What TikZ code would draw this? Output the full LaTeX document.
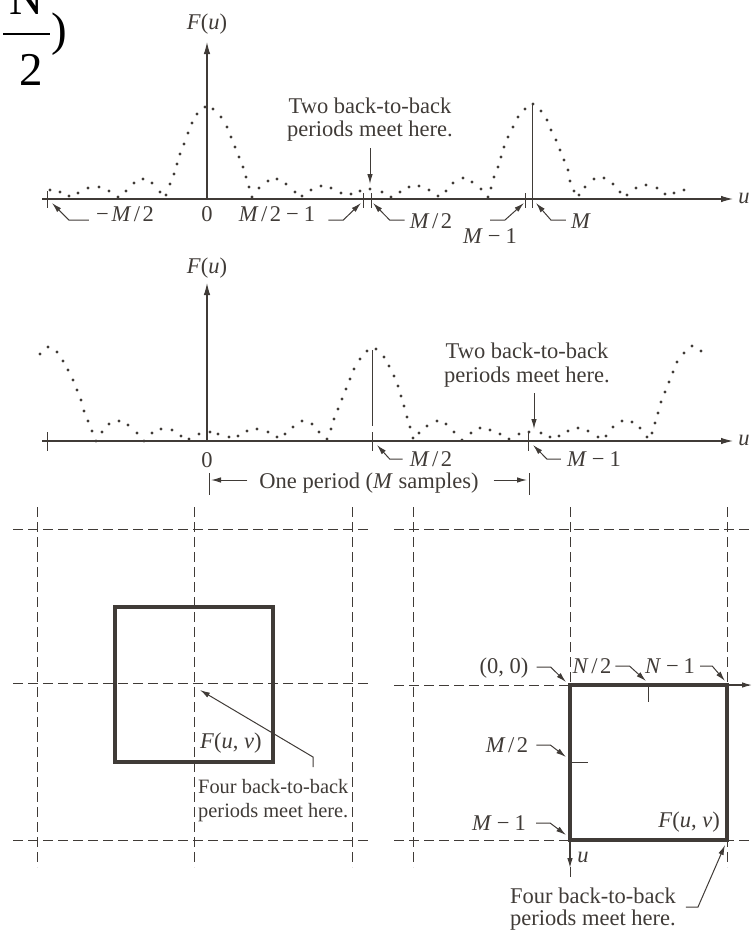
\documentclass[tikz,border=0pt]{standalone}
\usepackage{fontspec}
\setmainfont{Liberation Serif}
\usetikzlibrary{arrows.meta}
\definecolor{ink}{RGB}{64,59,55}
\newcommand{\itx}[1]{\textit{#1}}
\newcommand{\mns}{\kern5pt\char"2212\kern5pt}
\newcommand{\slh}{\kern2.5pt/\kern2.5pt}
\begin{document}
\begin{tikzpicture}[x=1pt,y=-1pt,
  lbl/.style={inner sep=0pt, anchor=base, text=ink, font=\fontsize{22.5}{23}\selectfont},
  lblw/.style={lbl, anchor=base west},
  lble/.style={lbl, anchor=base east},
  smallnote/.style={lblw, font=\fontsize{20.4}{21}\selectfont},
  axisline/.style={draw=ink, line width=1.1pt, -{Latex[length=12pt,width=6.5pt]}},
  smallaxis/.style={draw=ink, line width=1.1pt, -{Latex[length=10pt,width=5.5pt]}},
  leader/.style={draw=ink, line width=1pt, -{Latex[length=10pt,width=5.5pt]}},
  tickline/.style={draw=ink, line width=0.9pt},
  gridline/.style={draw=ink, line width=0.8pt, dash pattern=on 10pt off 5pt},
  framebox/.style={draw=ink, line width=3.2pt},
  dotmark/.style={fill=ink}]
\useasboundingbox (0,0) rectangle (753,930);
\clip (0,0) rectangle (753,930);

% ---- fragment at top left ----
\node[inner sep=0pt, anchor=base, font=\fontsize{47}{47}\selectfont] (fragN) at (26,14) {N};
\draw[line width=2pt] (3,34) -- (50,34);
\node[inner sep=0pt, anchor=base, font=\fontsize{47}{47}\selectfont] (fragTwo) at (31.5,85) {2};
\node[inner sep=0pt, anchor=base, font=\fontsize{47}{47}\selectfont] (fragPar) at (59,45) {)};

% ================= PANEL 1 =================
\coordinate (o1) at (207,199);
\coordinate (top1) at (207,42);
\coordinate (l1) at (42,199);
\coordinate (r1) at (733,199);
\draw[axisline] (o1) -- (top1);
\draw[axisline] (l1) -- (r1);
\node[lbl] (F1) at (207,29) {\itx{F}(\itx{u})};
\node[lbl] (u1) at (744,203) {\itx{u}};
\draw[tickline] (47,191) -- (47,208);
\draw[tickline] (363,193) -- (363,208);
\draw[tickline] (371,193) -- (371,208);
\draw[tickline] (525,193) -- (525,208);
\draw[tickline] (532,104) -- (532,208);

\foreach \q in {(50,190),(60,192),(69,196),(78,193),(88,188),(99,187),(109,191),(118,197),(126,191),(134,183),(143,179),(152,183),(160,192),(166,195),(170,184),(174,174),(177,164),(180,154),(184,144),(188,133),(192,123),(197,114),(205,107),(213,109),(221,117),(227,127),(231,137),(235,147),(239,157),(243,167),(246,177),(249,187),(252,197),(259,188),(268,181),(277,179),(286,184),(295,192),(302,196),(311,190),(321,186),(331,188),(341,193),(351,194),(360,191),(370,189),(382,192),(391,197),(400,192),(409,187),(419,186),(429,190),(438,196),(446,191),(453,183),(463,178),(472,182),(481,189),(488,197),(491,188),(494,177),(498,167),(501,157),(504,147),(508,137),(513,127),(518,117),(525,109),(533,104),(541,111),(547,120),(551,130),(556,140),(560,150),(564,160),(568,170),(570,181),(574,191),(579,195),(585,187),(594,179),(604,178),(613,184),(620,192),(627,195),(636,188),(646,185),(657,188),(665,194),(674,193),(684,190)}
  \fill[dotmark] \q circle[radius=1.65pt];

\node[lbl] (m2neg) at (125,221) {\char"2212\kern3pt\itx{M}\slh 2};
\node[lbl] (zero1) at (207,221) {0};
\node[lbl] (m2m1) at (277,221) {\itx{M}\slh 2\mns 1};
\node[lbl] (mh1) at (431,228) {\itx{M}\slh 2};
\node[lbl] (mm1) at (490,243) {\itx{M}\mns 1};
\node[lbl] (mM) at (581,228) {\itx{M}};
\node[lbl] (two1a) at (370,113) {Two back-to-back};
\node[lbl] (two1b) at (370,136) {periods meet here.};

\coordinate (tA) at (52,203);
\coordinate (tB) at (361,203);
\coordinate (tC) at (373,203);
\coordinate (tD) at (524,203);
\coordinate (tE) at (536,203);
\coordinate (tG) at (370,184);
\draw[leader] ([xshift=-7pt,yshift=1pt]m2neg.base west) -- ++(-20,0) -- (tA);
\draw[leader] ([xshift=13pt,yshift=1pt]m2m1.base east) -- ++(15,0) -- (tB);
\draw[leader] ([xshift=-5pt,yshift=8pt]mh1.base west) -- ++(-15,0) -- (tC);
\draw[leader] ([yshift=23pt]mm1.base) -- ++(15,0) -- (tD);
\draw[leader] ([xshift=-5pt,yshift=8pt]mM.base west) -- ++(-15,0) -- (tE);
\draw[leader] ([yshift=-12pt]two1b.base) -- (tG);

% ================= PANEL 2 =================
\coordinate (o2) at (207,441);
\coordinate (top2) at (207,283);
\coordinate (l2) at (42,441);
\coordinate (r2) at (733,441);
\draw[axisline] (o2) -- (top2);
\draw[axisline] (l2) -- (r2);
\node[lbl] (F2) at (207,273) {\itx{F}(\itx{u})};
\node[lbl] (u2) at (744,445) {\itx{u}};
\draw[tickline] (47,432) -- (47,451);
\draw[tickline] (372,350) -- (372,426);
\draw[tickline] (372,432) -- (372,451);
\draw[tickline] (528,432) -- (528,451);

\foreach \q in {(40,354),(48,347),(57,352),(63,361),(68,370),(73,380),(77,390),(81,400),(84,411),(88,421),(92,431),(96,441),(102,432),(109,424),(119,421),(128,425),(137,433),(144,441),(152,433),(161,429),(172,430),(181,436),(189,439),(199,434),(210,432),(218,434),(229,437),(238,436),(247,431),(257,429),(268,432),(277,437),(285,434),(293,427),(302,421),(312,424),(319,432),(327,439),(331,429),(334,419),(338,409),(342,399),(346,389),(350,379),(354,369),(360,359),(367,351),(376,349),(384,357),(389,366),(394,376),(398,386),(401,396),(404,406),(407,417),(410,427),(413,438),(419,433),(427,426),(437,421),(446,424),(454,432),(462,440),(471,433),(480,428),(490,430),(500,434),(509,439),(519,434),(529,432),(541,433),(550,437),(559,436),(568,431),(578,428),(588,431),(598,437),(606,436),(613,427),(622,421),(632,422),(640,428),(647,437),(652,433),(655,423),(658,413),(661,402),(665,392),(669,382),(673,372),(677,362),(684,353),(692,346),(701,351)}
  \fill[dotmark] \q circle[radius=1.65pt];

\node[lbl] (zero2) at (207,467) {0};
\node[lbl] (mh2) at (431,466) {\itx{M}\slh 2};
\node[lbl] (mm2) at (594,466) {\itx{M}\mns 1};
\node[lbl] (two2a) at (527,358) {Two back-to-back};
\node[lbl] (two2b) at (527,382) {periods meet here.};
\node[lbl] (period) at (369,488) {One period (\itx{M} samples)};

\coordinate (tI) at (377,445);
\coordinate (tJ) at (533,445);
\coordinate (tF) at (534,429);
\coordinate (pL) at (209,484);
\coordinate (pR) at (529,484);
\draw[tickline] ([yshift=11pt]pL) -- ([yshift=-11pt]pL);
\draw[tickline] ([yshift=11pt]pR) -- ([yshift=-11pt]pR);
\draw[leader] ([xshift=-7pt,yshift=7pt]mh2.base west) -- ++(-13,0) -- (tI);
\draw[leader] ([xshift=-6pt,yshift=7pt]mm2.base west) -- ++(-14,0) -- (tJ);
\draw[leader] ([xshift=7pt,yshift=-11pt]two2b.base) -- (tF);
\draw[leader] ([xshift=-12pt,yshift=8pt]period.base west) -- ([xshift=2pt,yshift=4pt]pL);
\draw[leader] ([xshift=15pt,yshift=8pt]period.base east) -- ([xshift=-2pt,yshift=4pt]pR);

% ================= 2-D LEFT =================
\foreach \yy in {529,683,840} \draw[gridline] (13,\yy) -- (368,\yy);
\foreach \xx in {37,194,352} \draw[gridline] (\xx,507) -- (\xx,867);
\draw[framebox] (115,607) rectangle (273,762);
\node[lblw] (fuv1) at (200,748) {\itx{F}(\itx{u}, \itx{v})};
\node[smallnote] (four1a) at (198,793) {Four back-to-back};
\node[smallnote] (four1b) at (198,817) {periods meet here.};
\coordinate (tH) at (200,690);
\draw[leader] ([xshift=115pt,yshift=26pt]four1a.base west) -- ++(0,-10) -- (tH);

% ================= 2-D RIGHT =================
\foreach \yy in {529,685,840} \draw[gridline] (394,\yy) -- (750,\yy);
\foreach \xx in {413,727} \draw[gridline] (\xx,507) -- (\xx,867);
\draw[gridline] (570,507) -- (570,877);
\coordinate (c00) at (570,685);
\coordinate (cTR) at (727,685);
\coordinate (cBL) at (570,840);
\coordinate (cBR) at (727,840);
\draw[framebox] (c00) rectangle (cBR);
\draw[smallaxis] (cTR) -- (752,685);
\draw[smallaxis] (cBL) -- (570,868);
\draw[tickline] (648,685) -- (648,702);
\draw[tickline] (570,762) -- (588,762);

\node[lbl] (zz) at (504,673) {(0, 0)};
\node[lbl] (n2) at (592,673) {\itx{N}\slh 2};
\node[lbl] (nm1) at (670,673) {\itx{N}\mns 1};
\node[lbl] (mh3) at (507,752) {\itx{M}\slh 2};
\node[lbl] (mm3) at (499,830) {\itx{M}\mns 1};
\node[lble] (fuv2) at (720,827) {\itx{F}(\itx{u}, \itx{v})};
\node[lbl] (uu) at (583,862) {\itx{u}};
\node[lbl] (four2a) at (593,903) {Four back-to-back};
\node[lbl] (four2b) at (593,925) {periods meet here.};

\coordinate (tK) at (566,682);
\coordinate (tL) at (646,681);
\coordinate (tM) at (725,681);
\coordinate (tN) at (566,757);
\coordinate (tO) at (566,835);
\coordinate (tP) at (725,845);
\draw[leader] ([xshift=8pt,yshift=6pt]zz.base east) -- ++(14,0) -- (tK);
\draw[leader] ([xshift=4pt,yshift=7pt]n2.base east) -- ++(14,0) -- (tL);
\draw[leader] ([xshift=5pt,yshift=7pt]nm1.base east) -- ++(12,0) -- (tM);
\draw[leader] ([xshift=8pt,yshift=7pt]mh3.base east) -- ++(14,0) -- (tN);
\draw[leader] ([xshift=10pt,yshift=7pt]mm3.base east) -- ++(14,0) -- (tO);
\draw[leader] ([xshift=10pt,yshift=-4pt]four2a.base east) -- ++(12,0) -- (tP);
\end{tikzpicture}
\end{document}
